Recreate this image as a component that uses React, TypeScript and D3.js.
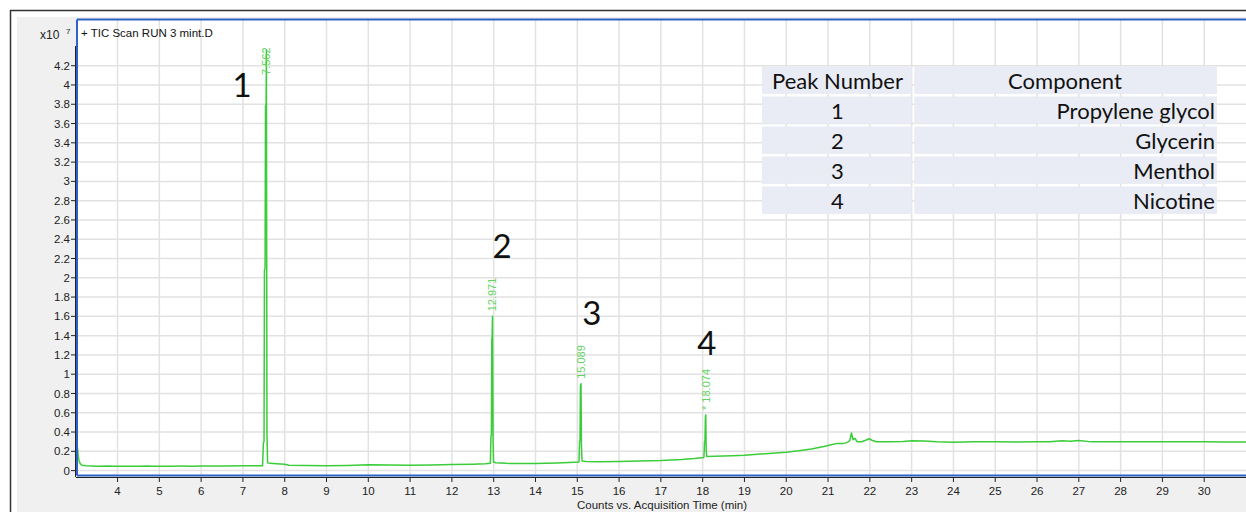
import React from "react";
import * as d3 from "d3";

// ---- data ----
const times = [
  3.03, 3.045, 3.06, 3.08, 3.11, 3.15, 3.25, 3.5, 3.8, 3.9, 4.2, 4.5, 4.75, 4.8, 5.0, 5.3, 5.5, 5.8, 6.0, 6.3, 6.6, 7.0, 7.3, 7.47,
  7.49, 7.505, 7.515, 7.53, 7.54, 7.555, 7.562, 7.575, 7.59, 7.65, 7.8, 8.0, 8.1, 8.5, 9.0, 9.5, 10.0, 10.5, 11.0, 11.5, 12.0,
  12.5, 12.8, 12.92, 12.935, 12.945, 12.955, 12.962, 12.971, 12.985, 12.995, 13.05, 13.3, 13.6, 14.0, 14.5, 14.8, 15.04,
  15.055, 15.065, 15.075, 15.089, 15.1, 15.115, 15.2, 15.5, 16.0, 16.5, 17.0, 17.5, 17.8, 18.03, 18.045, 18.055, 18.065,
  18.074, 18.085, 18.1, 18.3, 18.7, 19.0, 19.5, 20.0, 20.3, 20.6, 20.9, 21.1, 21.2, 21.35, 21.45, 21.52, 21.56, 21.6, 21.64,
  21.7, 21.8, 21.9, 21.98, 22.05, 22.15, 22.5, 22.8, 23.0, 23.3, 23.6, 24.0, 24.5, 25.0, 25.5, 26.0, 26.3, 26.6, 26.8, 27.0,
  27.3, 27.6, 28.0, 28.5, 29.0, 29.5, 30.0, 30.5, 31.0,
];
const counts = [
  0.27, 0.22, 0.15, 0.1, 0.07, 0.055, 0.05, 0.045, 0.047, 0.044, 0.045, 0.044, 0.048, 0.044, 0.044, 0.046, 0.047, 0.046, 0.048, 0.047, 0.048, 0.05, 0.05, 0.05,
  0.29, 0.3, 2.08, 2.1, 3.78, 3.8, 4.36, 0.4, 0.08, 0.075, 0.07, 0.065, 0.055, 0.052, 0.05, 0.053, 0.06, 0.058, 0.056, 0.058, 0.062,
  0.066, 0.07, 0.075, 0.36, 0.37, 1.36, 1.38, 1.6, 0.3, 0.09, 0.082, 0.075, 0.073, 0.074, 0.078, 0.083, 0.088,
  0.3, 0.31, 0.88, 0.9, 0.25, 0.1, 0.095, 0.092, 0.095, 0.1, 0.105, 0.115, 0.125, 0.135, 0.3, 0.31, 0.55,
  0.577, 0.2, 0.145, 0.15, 0.155, 0.16, 0.175, 0.19, 0.205, 0.225, 0.25, 0.27, 0.28, 0.28, 0.29, 0.31, 0.39, 0.32, 0.335,
  0.3, 0.3, 0.315, 0.33, 0.315, 0.3, 0.298, 0.302, 0.31, 0.308, 0.3, 0.295, 0.298, 0.3, 0.297, 0.298, 0.3, 0.31, 0.305, 0.312,
  0.298, 0.3, 0.3, 0.299, 0.298, 0.3, 0.298, 0.297, 0.297,
];

const peakTimes = [7.562, 12.971, 15.089, 18.074];
const peakApex = [4.36, 1.6, 0.9, 0.577];
const peakLabels = ["7.562", "12.971", "15.089", "* 18.074"];

const peakNumbers = ["1", "2", "3", "4"];
const peakNumberTimes = [6.977, 13.2, 15.35, 18.1];
const peakNumberValues = [3.875, 2.21, 1.51, 1.2];

const tableHeader = ["Peak Number", "Component"];
const tableNumbers = ["1", "2", "3", "4"];
const tableComponents = ["Propylene glycol", "Glycerin", "Menthol", "Nicotine"];

const xTicks = d3.range(4, 31);
const yTicks = d3.range(0, 22).map((i) => +(i * 0.2).toFixed(1));

const title = "+ TIC Scan RUN 3 mint.D";
const xTitle = "Counts vs. Acquisition Time (min)";

// ---- layout ----
const W = 1246;
const H = 512;
const plotL = 77;
const plotT = 19.5;
const plotB = 475.5;
const plotR = 1250;

export default function App() {
  const x = d3.scaleLinear().domain([3.03, 31.0]).range([77, 1246]);
  const y = d3.scaleLinear().domain([0, 4.2]).range([470.6, 65.7]);
  const pts = times.map((t, i) => [t, counts[i]] as [number, number]);
  const line = d3
    .line<[number, number]>()
    .x((d) => x(d[0]))
    .y((d) => y(d[1]));

  const font = "'Liberation Sans', Arial, sans-serif";
  const green = "#3acd3a";
  const labelGreen = "#5fd45f";
  const grid = "#e2e2e2";

  // table geometry
  const tL = 762, tR = 1217, tDiv = 913, tTop = 66.5, rowH = 27.4, gap = 2.6;
  const rows = [tableHeader, ...tableNumbers.map((n, i) => [n, tableComponents[i]])];

  return (
    <svg width={W} height={H} style={{ position: "absolute", left: 0, top: 0 }} fontFamily={font}>
      <rect x={0} y={0} width={W} height={H} fill="#fff" />
      <rect x={17} y={17} width={W} height={H} fill="#f0f0f0" />
      <line x1={10} y1={10.5} x2={W} y2={10.5} stroke="#333" strokeWidth={1.5} />
      <line x1={10.5} y1={10} x2={10.5} y2={H} stroke="#333" strokeWidth={1.5} />

      {/* plot area */}
      <rect x={plotL} y={plotT} width={plotR - plotL} height={plotB - plotT} fill="#fff" />
      <clipPath id="clip">
        <rect x={plotL} y={plotT} width={plotR - plotL} height={plotB - plotT} />
      </clipPath>
      <g clipPath="url(#clip)">
        {xTicks.map((t) => (
          <line key={"gx" + t} x1={x(t)} x2={x(t)} y1={plotT} y2={plotB} stroke={grid} strokeWidth={1.5} />
        ))}
        {yTicks.map((v) => (
          <line key={"gy" + v} x1={plotL} x2={plotR} y1={y(v)} y2={y(v)} stroke={grid} strokeWidth={1.5} />
        ))}
        <path d={line(pts) || ""} fill="none" stroke={green} strokeWidth={1.5} strokeLinejoin="round" />
        {peakTimes.map((t, i) => {
          const yb = Math.max(y(peakApex[i]) - 5, 75);
          return (
            <text
              key={"pl" + i}
              transform={`translate(${x(t)},${yb}) rotate(-90)`}
              dy="0.35em"
              fontSize={11}
              fill={labelGreen}
            >
              {peakLabels[i]}
            </text>
          );
        })}
      </g>
      <text x={81} y={37} fontSize={11.5} fill="#111">{title}</text>

      {/* peak numbers */}
      {peakNumbers.map((n, i) => (
        <text
          key={"pn" + i}
          x={x(peakNumberTimes[i])}
          y={y(peakNumberValues[i])}
          textAnchor="middle"
          fontSize={33}
          fontFamily="Lato, 'Open Sans', sans-serif"
          fill="#111"
        >
          {n}
        </text>
      ))}

      {/* table */}
      {rows.map((r, i) => {
        const top = tTop + i * (rowH + gap);
        const cy = top + rowH / 2;
        return (
          <g key={"row" + i} fontFamily="Lato, 'Open Sans', sans-serif" fontSize={22} fill="#111">
            <rect x={tL} y={top} width={tDiv - tL - 1.3} height={rowH} fill="#e9ecf4" />
            <rect x={tDiv + 1.3} y={top} width={tR - tDiv - 1.3} height={rowH} fill="#e9ecf4" />
            <text x={(tL + tDiv) / 2} y={cy} dy="0.38em" textAnchor="middle">{r[0]}</text>
            {i === 0 ? (
              <text x={(tDiv + tR) / 2} y={cy} dy="0.38em" textAnchor="middle">{r[1]}</text>
            ) : (
              <text x={tR - 2} y={cy} dy="0.38em" textAnchor="end">{r[1]}</text>
            )}
          </g>
        );
      })}

      {/* frame */}
      <line x1={plotL} y1={plotT} x2={plotR} y2={plotT} stroke="#2f62c8" strokeWidth={2} />
      <line x1={plotL} y1={plotT} x2={plotL} y2={plotB} stroke="#2f62c8" strokeWidth={2} />
      <line x1={plotL} y1={plotB} x2={plotR} y2={plotB} stroke="#2f62c8" strokeWidth={2} />

      {/* y axis */}
      <line x1={75.5} y1={46} x2={75.5} y2={477} stroke="#222" strokeWidth={1} />
      {yTicks.map((v) => (
        <g key={"yt" + v}>
          <line x1={71} x2={75.5} y1={y(v)} y2={y(v)} stroke="#222" />
          <text x={70} y={y(v)} dy="0.35em" textAnchor="end" fontSize={11.5} fill="#222">
            {String(v)}
          </text>
        </g>
      ))}
      <text x={40} y={39} fontSize={12} fill="#222">x10</text>
      <text x={66} y={34} fontSize={8} fill="#222">7</text>

      {/* x axis */}
      <line x1={76} y1={477.5} x2={W} y2={477.5} stroke="#222" strokeWidth={1} />
      {xTicks.map((t) => (
        <g key={"xt" + t}>
          <line x1={x(t)} x2={x(t)} y1={477.5} y2={482} stroke="#222" />
          <text x={x(t)} y={495} textAnchor="middle" fontSize={11.5} fill="#222">
            {t}
          </text>
        </g>
      ))}
      <text x={662} y={509} textAnchor="middle" fontSize={11.5} fill="#222">{xTitle}</text>
    </svg>
  );
}
